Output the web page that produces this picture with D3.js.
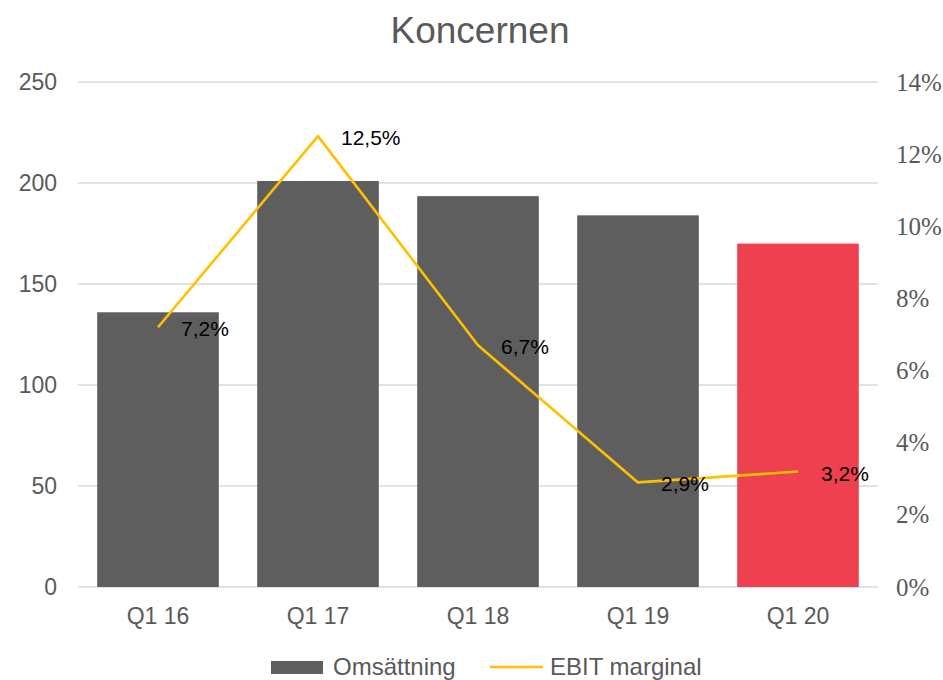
<!DOCTYPE html>
<html lang="sv">
<head>
<meta charset="UTF-8">
<title>Koncernen</title>
<script src="https://d3js.org/d3.v7.min.js"></script>
<style>
  body { margin: 0; background: #fff; }
  svg { display: block; font-family: Arial, "Liberation Sans", sans-serif; }
  .serif text { font-family: "Liberation Serif", "Times New Roman", Times, serif; }
</style>
</head>
<body>
<svg id="chart" width="943" height="680"></svg>
<script>
// data
const quarters = ['Q1 16', 'Q1 17', 'Q1 18', 'Q1 19', 'Q1 20'];
const revenue = [136, 201, 193.5, 184, 170];
const ebitMargin = [7.2, 12.5, 6.7, 2.9, 3.2];
const leftTicks = [0, 50, 100, 150, 200, 250];
const rightTicks = [0, 2, 4, 6, 8, 10, 12, 14];

const svg = d3.select('#chart');
const m = { left: 78, right: 878, top: 82, bottom: 587 };
const grey = '#595959';

const x = d3.scaleBand().domain(quarters).range([m.left, m.right]).paddingInner(0.24).paddingOuter(0.12);
const yL = d3.scaleLinear().domain([0, 250]).range([m.bottom, m.top]);
const yR = d3.scaleLinear().domain([0, 14]).range([m.bottom, m.top]);

// title
svg.append('text')
    .attr('x', 480).attr('y', 43)
    .attr('text-anchor', 'middle')
    .attr('font-size', 37)
    .attr('fill', grey)
    .text('Koncernen');

// gridlines
svg.append('g').selectAll('line')
    .data(leftTicks)
    .join('line')
    .attr('x1', m.left).attr('x2', m.right)
    .attr('y1', d => yL(d)).attr('y2', d => yL(d))
    .attr('stroke', '#d9d9d9').attr('stroke-width', 1.3);

// left axis
const axL = svg.append('g')
    .attr('transform', `translate(${m.left},0)`)
    .call(d3.axisLeft(yL).tickValues(leftTicks).tickSize(0).tickPadding(21));
axL.select('.domain').remove();
axL.selectAll('text').attr('font-size', 23).attr('fill', grey).style('font-family', 'Arial, sans-serif');

// right axis (serif in the original)
const axR = svg.append('g')
    .attr('class', 'serif')
    .attr('font-family', null)
    .attr('transform', `translate(${m.right},0)`)
    .call(d3.axisRight(yR).tickValues(rightTicks).tickSize(0).tickPadding(18).tickFormat(d => d + '%'));
axR.attr('font-family', null);
axR.select('.domain').remove();
axR.selectAll('text').attr('font-size', 25).attr('fill', grey);

// bars
svg.append('g').selectAll('rect')
    .data(quarters)
    .join('rect')
    .attr('x', d => x(d))
    .attr('width', x.bandwidth())
    .attr('y', (d, i) => yL(revenue[i]))
    .attr('height', (d, i) => yL(0) - yL(revenue[i]))
    .attr('fill', (d, i) => i === quarters.length - 1 ? '#ef404f' : '#5e5e5e');

// x axis
const axX = svg.append('g')
    .attr('transform', `translate(0,${m.bottom})`)
    .call(d3.axisBottom(x).tickSize(0).tickPadding(21));
axX.select('.domain').remove();
axX.selectAll('text').attr('font-size', 23).attr('fill', grey).style('font-family', 'Arial, sans-serif');

// EBIT line
const cx = d => x(d) + x.bandwidth() / 2;
const line = d3.line()
    .x((d, i) => cx(quarters[i]))
    .y(d => yR(d));

svg.append('path')
    .datum(ebitMargin)
    .attr('d', line)
    .attr('fill', 'none')
    .attr('stroke', '#ffc000')
    .attr('stroke-width', 2.6)
    .attr('stroke-linejoin', 'round');

// labels
svg.append('g').selectAll('text')
    .data(ebitMargin)
    .join('text')
    .attr('x', (d, i) => cx(quarters[i]) + 23)
    .attr('y', d => yR(d) + 9)
    .attr('font-size', 21)
    .attr('fill', '#000')
    .text(d => d.toFixed(1).replace('.', ',') + '%');

// legend
const lg = svg.append('g').attr('font-size', 24).attr('fill', grey);
lg.append('rect').attr('x', 271).attr('y', 661).attr('width', 52).attr('height', 13).attr('fill', '#5e5e5e');
lg.append('text').attr('x', 333).attr('y', 675).attr('fill', grey).text('Omsättning');
lg.append('line').attr('x1', 490).attr('x2', 543).attr('y1', 667).attr('y2', 667)
    .attr('stroke', '#ffc000').attr('stroke-width', 2.6);
lg.append('text').attr('x', 550).attr('y', 675).attr('fill', grey).text('EBIT marginal');
</script>
</body>
</html>
